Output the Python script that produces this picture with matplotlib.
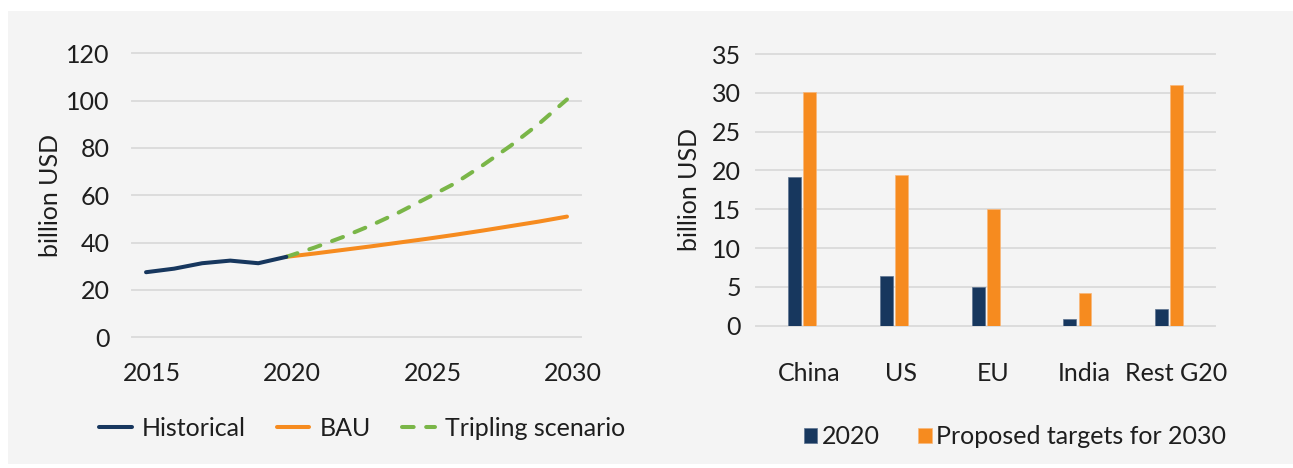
import numpy as np
import matplotlib.pyplot as plt
import matplotlib.transforms as mtransforms
from matplotlib.patches import Rectangle

plt.rcParams['font.family'] = ['Lato', 'DejaVu Sans']

# left panel: investment path, billion USD
hist_years = [2015, 2016, 2017, 2018, 2019, 2020]
hist_vals = [27.5, 29.0, 31.3, 32.4, 31.3, 34.0]
proj_years = [2020, 2021, 2022, 2023, 2024, 2025, 2026, 2027, 2028, 2029, 2030]
bau_vals = [34.0, 35.4, 36.9, 38.4, 40.0, 41.6, 43.3, 45.1, 47.0, 48.9, 51.0]
tripling_vals = [34.0, 37.9, 42.3, 47.2, 52.7, 58.8, 65.0, 72.7, 81.0, 90.2, 100.5]

# right panel: by region
regions = ['China', 'US', 'EU', 'India', 'Rest G20']
vals_2020 = [19.1, 6.4, 5.0, 0.85, 2.1]
vals_2030 = [30.1, 19.4, 15.0, 4.2, 31.0]

navy = '#17375e'
orange = '#f68b1f'
green = '#7ab648'
grid_c = '#dcdcdc'
bg = '#f4f4f4'
txt = '#1e1e1e'
fs = 18

W, H = 1293, 468
fig = plt.figure(figsize=(W / 100, H / 100), dpi=100)
fig.patch.set_facecolor('white')
fig.patches.append(Rectangle((8 / W, 4 / H), 1 - 8 / W, (464 - 11) / H,
                             transform=fig.transFigure, facecolor=bg,
                             edgecolor='none', zorder=-10))

def style(ax):
    ax.set_facecolor('none')
    for s in ax.spines.values():
        s.set_visible(False)
    ax.tick_params(length=0, labelsize=fs, colors=txt)
    ax.grid(axis='y', color=grid_c, lw=1.4)
    ax.grid(axis='x', visible=False)
    ax.set_axisbelow(True)
    for gl in ax.get_ygridlines():
        gl.set_clip_on(False)

# ---- left: lines
ax1 = fig.add_axes([132 / W, 1 - 337.3 / H, 449 / W, 284 / H])
style(ax1)
ax1.plot(hist_years, hist_vals, color=navy, lw=2.9, solid_capstyle='round', label='Historical', zorder=3)
ax1.plot(proj_years, bau_vals, color=orange, lw=2.9, solid_capstyle='round', label='BAU', zorder=2)
ax1.plot(proj_years, tripling_vals, color=green, lw=2.9, dashes=(2.9, 3.1),
         dash_capstyle='round', label='Tripling scenario', zorder=2)
ax1.set_xlim(2014.5, 2030.5)
ax1.set_ylim(0, 120)
ax1.set_yticks(np.arange(0, 121, 20))
ax1.set_xticks([2015, 2020, 2025, 2030])
ax1.tick_params(axis='x', pad=18)
ax1.tick_params(axis='y', pad=16)
ax1.set_ylabel('billion USD', fontsize=fs, color=txt, labelpad=3)
off = mtransforms.ScaledTranslation(6 / 100, 0, fig.dpi_scale_trans)
for lab in ax1.get_xticklabels():
    lab.set_transform(lab.get_transform() + off)
leg1 = ax1.legend(loc='center', bbox_to_anchor=(362 / W, 1 - 428 / H),
                  bbox_transform=fig.transFigure, ncol=3, frameon=False,
                  fontsize=fs, handlelength=1.3, handletextpad=0.4,
                  columnspacing=1.25, labelcolor=txt)

# ---- right: bars
ax2 = fig.add_axes([756.5 / W, 1 - 325.7 / H, 458.5 / W, 271.7 / H])
style(ax2)
x = np.arange(len(regions))
bw = 0.14
gap = 0.025
ax2.bar(x - (bw + gap) / 2, vals_2020, bw, color=navy, edgecolor='#5d7390', lw=0.5, label='2020')
ax2.bar(x + (bw + gap) / 2, vals_2030, bw, color=orange, edgecolor='#f9b77a', lw=0.5,
        label='Proposed targets for 2030')
ax2.set_xlim(-0.5, len(regions) - 0.5)
ax2.set_ylim(0, 35)
ax2.set_yticks(np.arange(0, 36, 5))
ax2.set_xticks(x)
ax2.set_xticklabels(regions)
ax2.tick_params(axis='x', pad=26)
ax2.tick_params(axis='y', pad=11)
ax2.set_ylabel('billion USD', fontsize=fs, color=txt, labelpad=8)
off2 = mtransforms.ScaledTranslation(7 / 100, 0, fig.dpi_scale_trans)
for lab in ax2.get_xticklabels():
    lab.set_transform(lab.get_transform() + off2)
leg2 = ax2.legend(loc='center', bbox_to_anchor=(1015 / W, 1 - 437 / H),
                  bbox_transform=fig.transFigure, ncol=2, frameon=False,
                  fontsize=fs, handlelength=0.55, handleheight=0.55,
                  handletextpad=0.2, columnspacing=1.5, labelcolor=txt)

fig.savefig('out.png', dpi=100, facecolor=fig.get_facecolor())
